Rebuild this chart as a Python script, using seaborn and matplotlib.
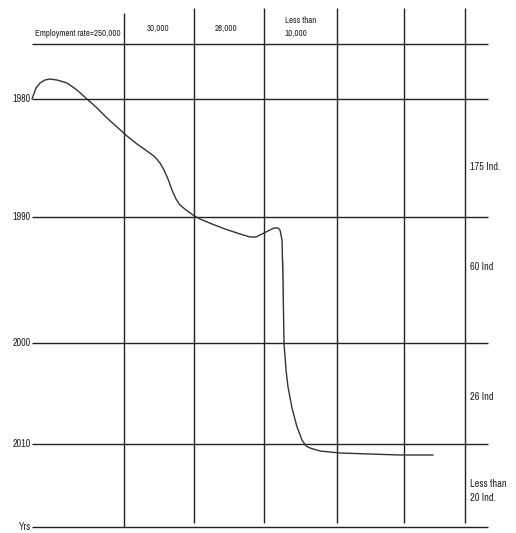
import numpy as np
import pandas as pd
import matplotlib
matplotlib.use("Agg")
import matplotlib.pyplot as plt
import seaborn as sns
from matplotlib import font_manager

sns.set_style("white")
names = set(f.name for f in font_manager.fontManager.ttflist)
wanted = ['Archivo Narrow', 'Liberation Sans', 'DejaVu Sans']
plt.rcParams['font.family'] = [n for n in wanted if n in names] or ['DejaVu Sans']

# row (year) lines and labels, in chart units
row_labels = ['1980', '1990', '2000', '2010', 'Yrs']
row_y = [99, 217, 343, 444, 527]
header_y = 44

# column lines and header labels
col_x = [124, 194, 264, 337, 404, 465]
col_labels = ['Employment rate=250,000', '30,000', '28,000', 'Less than\n10,000']
col_label_x = [35, 147, 215, 285]

# right hand labels (industries)
ind_labels = ['175 Ind.', '60 Ind', '26 Ind', 'Less than\n20 Ind.']
ind_y = [167, 267, 397, 491]

# employment curve
curve_x = [32, 36, 40, 45, 50, 57, 67, 77, 87, 97, 107, 117, 127, 137, 147, 155, 160,
           164, 168, 172, 176, 180, 186, 193, 200, 212, 225, 237, 250, 256, 262, 268,
           274, 278, 280, 282, 283, 283, 284, 286, 288, 292, 297, 302, 306, 310, 320,
           340, 370, 400, 433]
curve_y = [99, 88, 83, 80, 79, 80, 83, 90, 99, 108, 118, 127, 136, 144, 151, 157, 163,
           170, 179, 190, 199, 205, 210, 215, 219, 224, 229, 233, 237, 237, 234, 231,
           228, 228, 230, 240, 260, 300, 343, 370, 387, 408, 427, 440, 446, 448, 451,
           453, 454, 455, 455]

fig = plt.figure(figsize=(5.16, 5.33), dpi=100)
ax = fig.add_axes([0, 0, 1, 1])

# grid
ax.hlines(header_y, 32, 488, color='#222222', lw=1)
ax.hlines(row_y, 32, 488, color='#222222', lw=1)
ax.vlines(col_x[0], 13, 527, color='#222222', lw=1)
ax.vlines(col_x[1:], 8, 523, color='#222222', lw=1)

df = pd.DataFrame({'x': curve_x, 'y': curve_y})
sns.lineplot(data=df, x='x', y='y', sort=False, color='#333333', lw=1, ax=ax)
ax.set_xlim(0, 516)
ax.set_ylim(533, 0)
ax.axis('off')

for lab, y in zip(row_labels, row_y):
    ax.text(31, y, lab, ha='right', va='center', fontsize=7.2)

for lab, x in zip(col_labels, col_label_x):
    yy = 34 if lab.startswith('Employment') else 28
    if '\n' in lab:
        yy = 27
    ax.text(x, yy, lab, ha='left', va='center', fontsize=6.4, linespacing=1.5)

for lab, y in zip(ind_labels, ind_y):
    ax.text(470, y, lab, ha='left', va='center', fontsize=7.4, linespacing=1.5)

fig.savefig('out.png', dpi=100)
